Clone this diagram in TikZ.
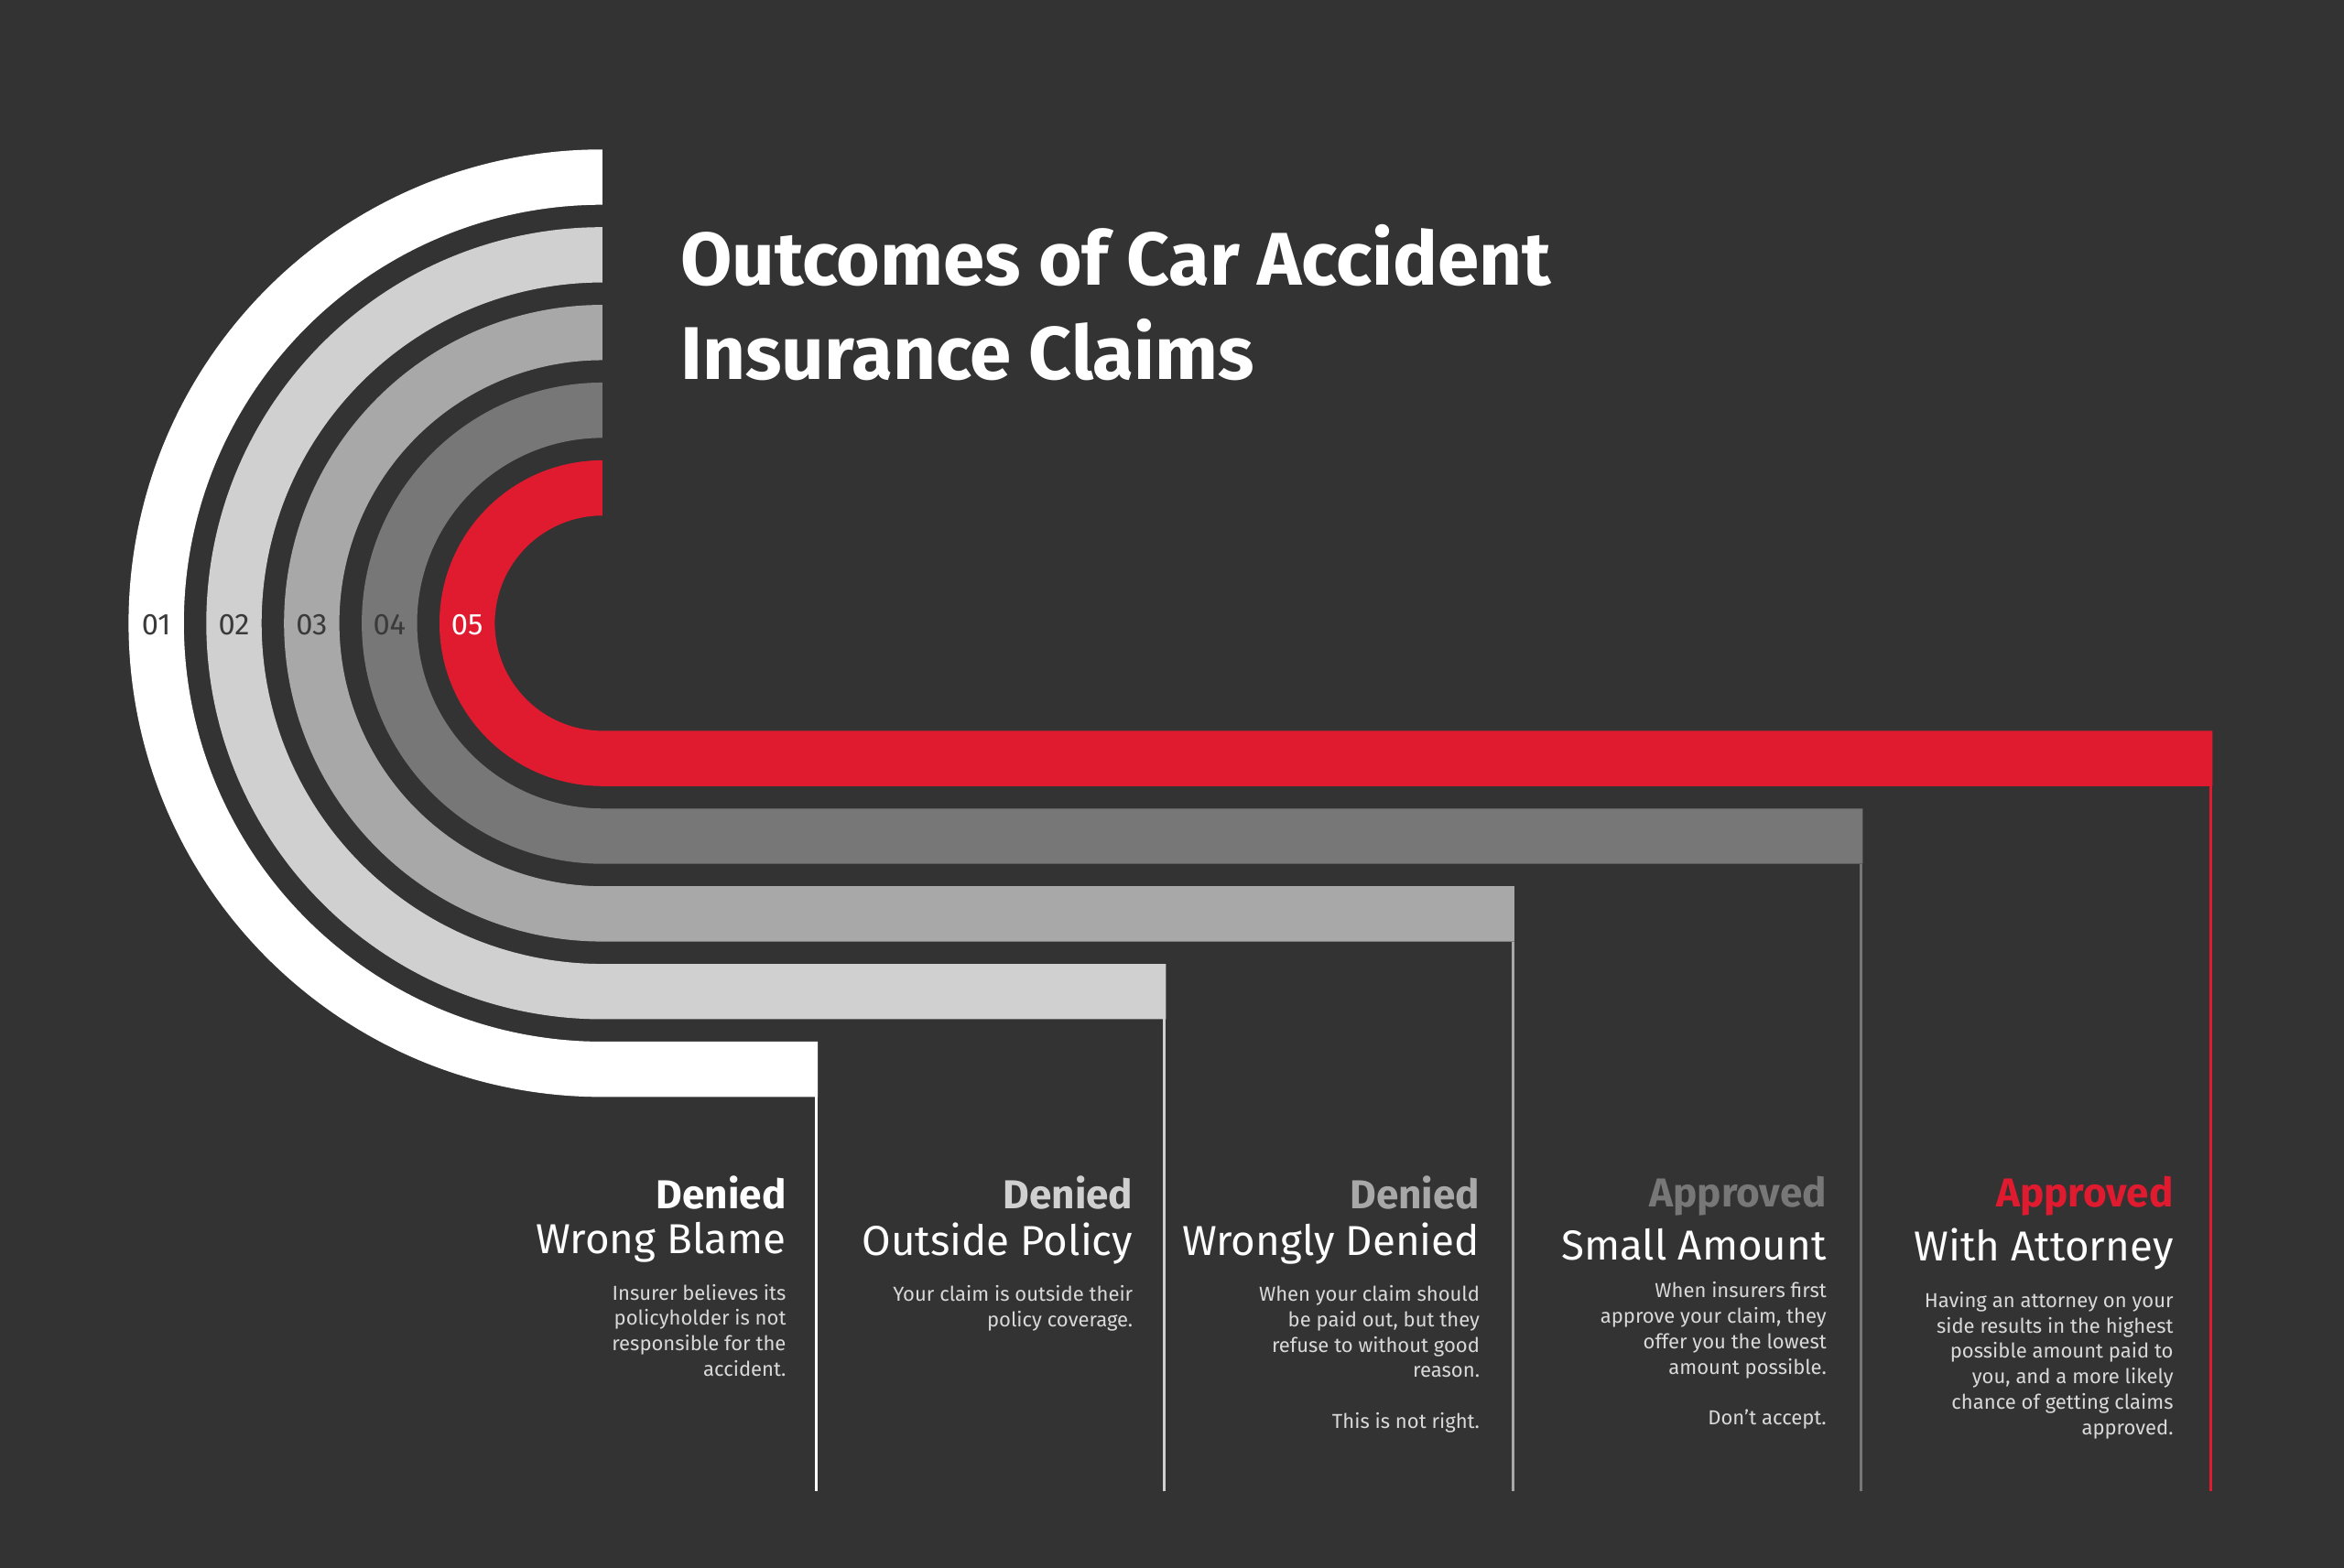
\documentclass[tikz,border=0pt]{standalone}
\usepackage{fontspec}
\setmainfont{Fira Sans}
\usetikzlibrary{positioning}
\definecolor{bgdark}{HTML}{333333}
\definecolor{bandA}{HTML}{FFFFFF}
\definecolor{bandB}{HTML}{D0D0D0}
\definecolor{bandC}{HTML}{A8A8A8}
\definecolor{bandD}{HTML}{777777}
\definecolor{bandE}{HTML}{E01B2F}
\definecolor{numdark}{HTML}{3A3A3A}
\begin{document}
\begin{tikzpicture}[x=1pt,y=-1pt,
num/.style = {font=\fontsize{20}{22}\selectfont},
head/.style = {anchor=north east, font=\fontsize{27}{30}\selectfont\bfseries, inner sep=0pt},
sub/.style = {anchor=north east, font=\fontsize{28}{32}\selectfont, text=white, inner sep=0pt},
body/.style = {anchor=north east, font=\fontsize{13.5}{17}\selectfont, text=white!85!black,
               align=right, inner sep=0pt}]

\fill[bgdark] (0,0) rectangle (1568,1049);
\useasboundingbox (0,0) rectangle (1568,1049);

% bands
\foreach \n/\R/\r/\E/\c/\t in {01/317/280/547/bandA/numdark,02/265/228/780/bandB/numdark,
  03/213/176/1013/bandC/numdark,04/161/124/1246/bandD/numdark,05/109/72/1480/bandE/white}
{
  \fill[\c] (403,417-\R) arc[start angle=270,end angle=90,radius=\R] -- (\E,417+\R)
    -- (\E,417+\r) -- (403,417+\r) arc[start angle=90,end angle=270,radius=\r] -- cycle;
  \coordinate (end\n) at (\E-1,417+\R);
  \coordinate (foot\n) at (\E-1,998);
  \draw[\c, line width=2pt] (end\n) -- (foot\n);
  \node[num, text=\t] (num\n) at ({403-(\R+\r)/2},418) {\n};
}

% title
\node[anchor=north west, align=left, text=white, inner sep=0pt,
      font=\fontsize{50}{63}\selectfont\bfseries] (title) at (455,150)
  {Outcomes of Car Accident\\Insurance Claims};

% columns
\node[head, text=bandA] (h1) at (526,787) {Denied};
\node[sub, below=8pt of h1.south east, anchor=north east] (s1) {Wrong Blame};
\node[body, below=14pt of s1.south east, anchor=north east] (b1)
  {Insurer believes its\\policyholder is not\\responsible for the\\accident.};

\node[head, text=bandB] (h2) at (758,787) {Denied};
\node[sub, below=8pt of h2.south east, anchor=north east] (s2) {Outside Policy};
\node[body, below=14pt of s2.south east, anchor=north east] (b2)
  {Your claim is outside their\\policy coverage.};

\node[head, text=bandC] (h3) at (990,787) {Denied};
\node[sub, below=8pt of h3.south east, anchor=north east] (s3) {Wrongly Denied};
\node[body, below=14pt of s3.south east, anchor=north east] (b3)
  {When your claim should\\be paid out, but they\\refuse to without good\\reason.\\[17pt]This is not right.};

\node[head, text=bandD] (h4) at (1222,787) {Approved};
\node[sub, below=8pt of h4.south east, anchor=north east] (s4) {Small Amount};
\node[body, below=14pt of s4.south east, anchor=north east] (b4)
  {When insurers first\\approve your claim, they\\offer you the lowest\\amount possible.\\[17pt]Don't accept.};

\node[head, text=bandE] (h5) at (1454,787) {Approved};
\node[sub, below=8pt of h5.south east, anchor=north east] (s5) {With Attorney};
\node[body, below=14pt of s5.south east, anchor=north east] (b5)
  {Having an attorney on your\\side results in the highest\\possible amount paid to\\you, and a more likely\\chance of getting claims\\approved.};
\end{tikzpicture}
\end{document}
